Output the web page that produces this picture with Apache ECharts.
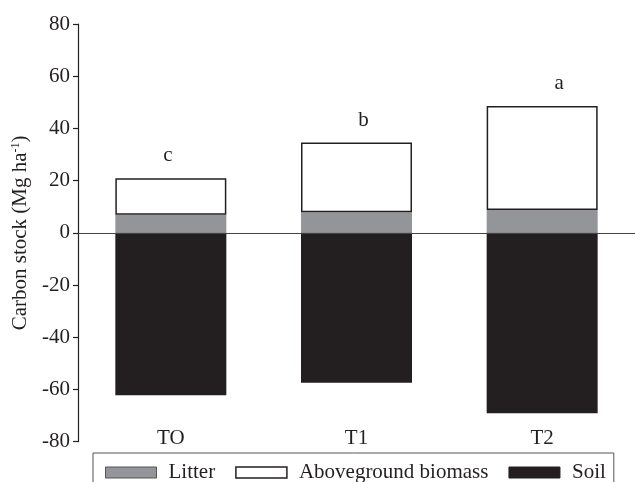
<!DOCTYPE html>
<html>
<head>
<meta charset="utf-8">
<script src="https://cdn.jsdelivr.net/npm/echarts@6/dist/echarts.min.js"></script>
<style>html,body{margin:0;padding:0;background:#fff}#c{width:635px;height:482px}</style>
</head>
<body>
<div id="c"></div>
<script>
var categories = ['TO', 'T1', 'T2'];
var litter = [6.9, 7.9, 8.8];
var aboveground = [14.0, 26.7, 39.8];
var soil = [-62.2, -57.4, -69.1];
var letters = ['c', 'b', 'a'];
var yTicks = [-80, -60, -40, -20, 0, 20, 40, 60, 80];

var letterOffsets = [-3, 7, 17];
var FONT = "'Liberation Serif', 'Times New Roman', serif";
var INK = '#231f20';

var chart = echarts.init(document.getElementById('c'), null, {renderer: 'canvas'});
var agbData = aboveground.map(function (v, i) {
  return {value: v, label: {show: true, position: 'top', distance: 12, formatter: letters[i], offset: [letterOffsets[i], 0]}};
});
chart.setOption({
  animation: false,
  textStyle: {fontFamily: FONT},
  grid: {left: 78, right: 0, top: 24, bottom: 40.3, containLabel: false, outerBoundsMode: 'none'},
  legend: {
    left: 93, top: 453,
    padding: [9, 8, 12, 12],
    borderColor: '#555', borderWidth: 1,
    icon: 'rect',
    itemWidth: 51, itemHeight: 11, itemGap: 20,
    textStyle: {fontFamily: FONT, fontSize: 21, color: INK, padding: [0, 0, 0, 7]},
    data: [
      {name: 'Litter', itemStyle: {color: '#939598', borderColor: '#555', borderWidth: 1}},
      {name: 'Aboveground biomass', itemStyle: {color: '#fff', borderColor: INK, borderWidth: 1.5}},
      {name: 'Soil', itemStyle: {color: INK, borderColor: INK, borderWidth: 1}}
    ]
  },
  xAxis: {
    type: 'category',
    data: categories,
    position: 'bottom',
    axisLine: {show: false, onZero: false},
    axisTick: {show: false},
    axisLabel: {margin: -14, fontSize: 21, color: INK, fontFamily: FONT}
  },
  yAxis: {
    type: 'value',
    min: yTicks[0], max: yTicks[yTicks.length - 1], interval: 20,
    name: 'Carbon stock (Mg ha{sup|-1})',
    nameLocation: 'middle',
    nameGap: 45,
    nameRotate: 90,
    nameTextStyle: {fontSize: 21, color: INK, fontFamily: FONT,
      rich: {sup: {fontSize: 12, color: INK, fontFamily: FONT, verticalAlign: 'top', padding: [0, 0, 10, 0]}}},
    axisLine: {show: true, lineStyle: {color: INK, width: 1.2}},
    axisTick: {show: true, inside: false, length: 5, lineStyle: {color: INK, width: 1.2}},
    axisLabel: {fontSize: 21, color: INK, margin: 8, fontFamily: FONT},
    splitLine: {show: false}
  },
  series: [
    {name: 'Litter', type: 'bar', stack: 's', barWidth: 111, data: litter,
      itemStyle: {color: '#939598'}},
    {name: 'Aboveground biomass', type: 'bar', stack: 's', barWidth: 111, data: agbData,
      itemStyle: {color: '#fff', borderColor: INK, borderWidth: 1.5},
      label: {fontSize: 21, color: INK, fontFamily: FONT}},
    {name: 'Soil', type: 'bar', stack: 's', barWidth: 111, data: soil,
      itemStyle: {color: INK},
      markLine: {silent: true, symbol: 'none', label: {show: false},
        lineStyle: {color: '#444', width: 1.2, type: 'solid'},
        data: [{yAxis: 0}]}}
  ]
});
</script>
</body>
</html>
